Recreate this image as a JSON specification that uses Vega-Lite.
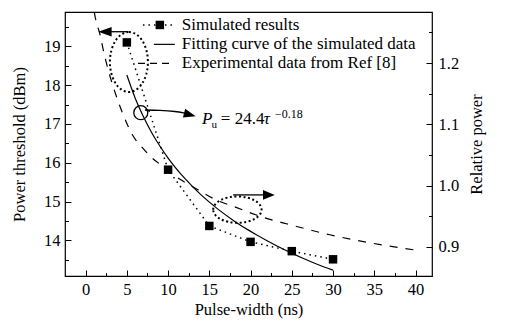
{
  "$schema": "https://vega.github.io/schema/vega-lite/v6.json",
  "width": 367,
  "height": 264,
  "autosize": "none",
  "padding": {"left": 65, "top": 12, "right": 83, "bottom": 56},
  "background": "white",
  "config": {
    "view": {"stroke": "black", "strokeWidth": 1.2},
    "axis": {
      "labelFont": "Liberation Serif", "titleFont": "Liberation Serif",
      "labelFontSize": 16.5, "titleFontSize": 16.5, "titleFontWeight": "normal",
      "labelColor": "black", "titleColor": "black", "tickColor": "black", "tickWidth": 1,
      "domain": false, "grid": false
    },
    "text": {"font": "Liberation Serif", "color": "black"}
  },
  "datasets": {
    "sim": [{"x": 5, "y": 19.1}, {"x": 10, "y": 15.82}, {"x": 15, "y": 14.37}, {"x": 20, "y": 13.96}, {"x": 25, "y": 13.72}, {"x": 30, "y": 13.51}],
    "fit": [{"x": 5, "y": 18.26}, {"x": 6, "y": 17.67}, {"x": 7, "y": 17.19}, {"x": 8, "y": 16.78}, {"x": 9, "y": 16.43}, {"x": 10, "y": 16.12}, {"x": 12, "y": 15.6}, {"x": 14, "y": 15.17}, {"x": 16, "y": 14.81}, {"x": 18, "y": 14.5}, {"x": 20, "y": 14.23}, {"x": 22, "y": 13.99}, {"x": 24, "y": 13.77}, {"x": 26, "y": 13.57}, {"x": 28, "y": 13.39}, {"x": 30, "y": 13.23}],
    "exp": [{"x": 1.05, "r": 1.283}, {"x": 1.13, "r": 1.277}, {"x": 1.73, "r": 1.247}, {"x": 2.28, "r": 1.213}, {"x": 2.86, "r": 1.183}, {"x": 3.55, "r": 1.153}, {"x": 4.46, "r": 1.119}, {"x": 5.67, "r": 1.083}, {"x": 6.88, "r": 1.062}, {"x": 8, "r": 1.046}, {"x": 9.31, "r": 1.032}, {"x": 11.49, "r": 1.01}, {"x": 13.67, "r": 0.993}, {"x": 15.79, "r": 0.977}, {"x": 17.98, "r": 0.966}, {"x": 21.85, "r": 0.947}, {"x": 24.04, "r": 0.939}, {"x": 29.6, "r": 0.92}, {"x": 34.8, "r": 0.906}, {"x": 40.5, "r": 0.894}],
    "legDot": [{"x": 6.95, "y": 19.55}, {"x": 10.82, "y": 19.55}],
    "legSq": [{"x": 9.0, "y": 19.55}],
    "legSolid": [{"x": 8.28, "y": 19.05}, {"x": 10.82, "y": 19.05}],
    "legDash": [{"x": 6.35, "y": 18.56}, {"x": 10.6, "y": 18.56}],
    "legText": [{"x": 11.67, "y": 19.55, "label": "Simulated results"}, {"x": 11.67, "y": 19.05, "label": "Fitting curve of the simulated data"}, {"x": 11.67, "y": 18.56, "label": "Experimental data from Ref [8]"}],
    "ell1": [{"x": 5.25, "y": 18.595}],
    "ell2": [{"x": 18.4, "y": 14.79}],
    "circ": [{"x": 6.69, "y": 17.29}],
    "arr1": [{"x": 2.96, "y": 19.376}, {"x": 5.13, "y": 19.376}],
    "arr1h": [{"x": 2.34, "y": 19.376}],
    "arr2": [{"x": 17.89, "y": 15.17}, {"x": 21.73, "y": 15.17}],
    "arr2h": [{"x": 22.22, "y": 15.17}],
    "arr3": [{"x": 7.19, "y": 17.358}, {"x": 9.01, "y": 17.35}, {"x": 10.82, "y": 17.32}, {"x": 12.04, "y": 17.28}],
    "arr3h": [{"x": 12.64, "y": 17.24}],
    "eqP": [{"x": 14.1, "y": 16.985, "t": "P"}],
    "eqU": [{"x": 15.25, "y": 16.894, "t": "u"}],
    "eqMid": [{"x": 16.4, "y": 16.985, "t": "= 24.4"}],
    "eqTau": [{"x": 21.6, "y": 16.985, "t": "τ"}],
    "eqExp": [{"x": 22.95, "y": 17.152, "t": "−0.18"}]
  },
  "layer": [
    {
      "data": {"name": "sim"},
      "mark": {"type": "line", "color": "black", "strokeWidth": 1.5, "strokeDash": [1.5, 4]},
      "encoding": {
        "x": {"field": "x", "type": "quantitative", "scale": {"domain": [-2.5, 42], "nice": false, "zero": false},
          "axis": {"orient": "bottom", "values": [0, 5, 10, 15, 20, 25, 30, 35, 40], "format": ".0f",
            "tickSize": -6, "labelPadding": 11, "titlePadding": 4, "title": "Pulse-width (ns)", "labelFlush": false}},
        "y": {"field": "y", "type": "quantitative", "scale": {"domain": [13.08, 19.884], "nice": false, "zero": false},
          "axis": {"orient": "left", "values": [14, 15, 16, 17, 18, 19], "format": ".0f",
            "tickSize": -6, "labelPadding": 11, "titlePadding": 16, "title": "Power threshold (dBm)", "labelFlush": false}}
      }
    },
    {
      "data": {"name": "sim"},
      "mark": {"type": "point", "shape": "square", "filled": true, "color": "black", "size": 72, "opacity": 1},
      "encoding": {
        "x": {"field": "x", "type": "quantitative", "scale": {"domain": [-2.5, 42], "nice": false, "zero": false},
          "axis": {"orient": "bottom", "values": [2.5, 7.5, 12.5, 17.5, 22.5, 27.5, 32.5, 37.5], "tickSize": -3.5, "labels": false, "title": null}},
        "y": {"field": "y", "type": "quantitative", "scale": {"domain": [13.08, 19.884], "nice": false, "zero": false},
          "axis": {"orient": "left", "values": [13.5, 14.5, 15.5, 16.5, 17.5, 18.5, 19.5], "tickSize": -3.5, "labels": false, "title": null}}
      }
    },
    {
      "data": {"name": "fit"},
      "mark": {"type": "line", "color": "black", "strokeWidth": 1.2, "interpolate": "monotone"},
      "encoding": {
        "x": {"field": "x", "type": "quantitative", "scale": {"domain": [-2.5, 42], "nice": false, "zero": false}, "axis": null},
        "y": {"field": "y", "type": "quantitative", "scale": {"domain": [13.08, 19.884], "nice": false, "zero": false}, "axis": null}
      }
    },
    {
      "data": {"name": "exp"},
      "mark": {"type": "line", "color": "black", "strokeWidth": 1.2, "strokeDash": [8, 8], "interpolate": "monotone", "clip": true},
      "encoding": {
        "x": {"field": "x", "type": "quantitative", "scale": {"domain": [-2.5, 42], "nice": false, "zero": false}, "axis": null},
        "y": {"field": "r", "type": "quantitative", "scale": {"domain": [0.8527, 1.2832], "nice": false, "zero": false},
          "axis": {"orient": "right", "values": [0.9, 1.0, 1.1, 1.2], "format": ".1f",
            "tickSize": -6, "labelPadding": 12, "titlePadding": 10, "titleAngle": -90, "titleBaseline": "top", "title": "Relative power", "labelFlush": false}}
      }
    },
    {
      "data": {"name": "exp"},
      "mark": {"type": "point", "opacity": 0, "size": 1},
      "encoding": {
        "x": {"field": "x", "type": "quantitative", "scale": {"domain": [-2.5, 42], "nice": false, "zero": false}, "axis": null},
        "y": {"field": "r", "type": "quantitative", "scale": {"domain": [0.8527, 1.2832], "nice": false, "zero": false},
          "axis": {"orient": "right", "values": [0.95, 1.05, 1.15, 1.25], "tickSize": -3.5, "labels": false, "title": null}}
      }
    },
    {
      "data": {"name": "legDot"},
      "mark": {"type": "line", "color": "black", "strokeWidth": 1.5, "strokeDash": [1.5, 4]},
      "encoding": {
        "x": {"field": "x", "type": "quantitative", "scale": {"domain": [-2.5, 42], "nice": false, "zero": false}, "axis": null},
        "y": {"field": "y", "type": "quantitative", "scale": {"domain": [13.08, 19.884], "nice": false, "zero": false}, "axis": null}
      }
    },
    {
      "data": {"name": "legSq"},
      "mark": {"type": "point", "shape": "square", "filled": true, "color": "black", "size": 72, "opacity": 1},
      "encoding": {
        "x": {"field": "x", "type": "quantitative", "scale": {"domain": [-2.5, 42], "nice": false, "zero": false}, "axis": null},
        "y": {"field": "y", "type": "quantitative", "scale": {"domain": [13.08, 19.884], "nice": false, "zero": false}, "axis": null}
      }
    },
    {
      "data": {"name": "legSolid"},
      "mark": {"type": "line", "color": "black", "strokeWidth": 1.2},
      "encoding": {
        "x": {"field": "x", "type": "quantitative", "scale": {"domain": [-2.5, 42], "nice": false, "zero": false}, "axis": null},
        "y": {"field": "y", "type": "quantitative", "scale": {"domain": [13.08, 19.884], "nice": false, "zero": false}, "axis": null}
      }
    },
    {
      "data": {"name": "legDash"},
      "mark": {"type": "line", "color": "black", "strokeWidth": 1.2, "strokeDash": [7, 5]},
      "encoding": {
        "x": {"field": "x", "type": "quantitative", "scale": {"domain": [-2.5, 42], "nice": false, "zero": false}, "axis": null},
        "y": {"field": "y", "type": "quantitative", "scale": {"domain": [13.08, 19.884], "nice": false, "zero": false}, "axis": null}
      }
    },
    {
      "data": {"name": "legText"},
      "mark": {"type": "text", "align": "left", "baseline": "middle", "fontSize": 17, "font": "Liberation Serif", "color": "black"},
      "encoding": {
        "x": {"field": "x", "type": "quantitative", "scale": {"domain": [-2.5, 42], "nice": false, "zero": false}, "axis": null},
        "y": {"field": "y", "type": "quantitative", "scale": {"domain": [13.08, 19.884], "nice": false, "zero": false}, "axis": null},
        "text": {"field": "label"}
      }
    },
    {
      "data": {"name": "ell1"},
      "mark": {"type": "point", "shape": "M 0 -1 C 0.35 -1 0.633 -0.552 0.633 0 C 0.633 0.552 0.35 1 0 1 C -0.35 1 -0.633 0.552 -0.633 0 C -0.633 -0.552 -0.35 -1 0 -1 Z", "size": 3600, "filled": false, "color": "black", "strokeWidth": 2, "strokeDash": [2, 2.5], "opacity": 1},
      "encoding": {
        "x": {"field": "x", "type": "quantitative", "scale": {"domain": [-2.5, 42], "nice": false, "zero": false}, "axis": null},
        "y": {"field": "y", "type": "quantitative", "scale": {"domain": [13.08, 19.884], "nice": false, "zero": false}, "axis": null}
      }
    },
    {
      "data": {"name": "ell2"},
      "mark": {"type": "point", "shape": "M -1 0 C -1 -0.3 -0.552 -0.545 0 -0.545 C 0.552 -0.545 1 -0.3 1 0 C 1 0.3 0.552 0.545 0 0.545 C -0.552 0.545 -1 0.3 -1 0 Z", "size": 2342, "filled": false, "color": "black", "strokeWidth": 2, "strokeDash": [2, 2.5], "opacity": 1},
      "encoding": {
        "x": {"field": "x", "type": "quantitative", "scale": {"domain": [-2.5, 42], "nice": false, "zero": false}, "axis": null},
        "y": {"field": "y", "type": "quantitative", "scale": {"domain": [13.08, 19.884], "nice": false, "zero": false}, "axis": null}
      }
    },
    {
      "data": {"name": "circ"},
      "mark": {"type": "point", "shape": "circle", "size": 196, "filled": false, "color": "black", "strokeWidth": 1.3, "opacity": 1},
      "encoding": {
        "x": {"field": "x", "type": "quantitative", "scale": {"domain": [-2.5, 42], "nice": false, "zero": false}, "axis": null},
        "y": {"field": "y", "type": "quantitative", "scale": {"domain": [13.08, 19.884], "nice": false, "zero": false}, "axis": null}
      }
    },
    {
      "data": {"name": "arr1"},
      "mark": {"type": "line", "color": "black", "strokeWidth": 1.3},
      "encoding": {
        "x": {"field": "x", "type": "quantitative", "scale": {"domain": [-2.5, 42], "nice": false, "zero": false}, "axis": null},
        "y": {"field": "y", "type": "quantitative", "scale": {"domain": [13.08, 19.884], "nice": false, "zero": false}, "axis": null}
      }
    },
    {
      "data": {"name": "arr1h"},
      "mark": {"type": "point", "shape": "M -1 0 L 1 -0.7 L 1 0.7 Z", "size": 180, "filled": true, "color": "black", "opacity": 1},
      "encoding": {
        "x": {"field": "x", "type": "quantitative", "scale": {"domain": [-2.5, 42], "nice": false, "zero": false}, "axis": null},
        "y": {"field": "y", "type": "quantitative", "scale": {"domain": [13.08, 19.884], "nice": false, "zero": false}, "axis": null}
      }
    },
    {
      "data": {"name": "arr2"},
      "mark": {"type": "line", "color": "black", "strokeWidth": 1.3},
      "encoding": {
        "x": {"field": "x", "type": "quantitative", "scale": {"domain": [-2.5, 42], "nice": false, "zero": false}, "axis": null},
        "y": {"field": "y", "type": "quantitative", "scale": {"domain": [13.08, 19.884], "nice": false, "zero": false}, "axis": null}
      }
    },
    {
      "data": {"name": "arr2h"},
      "mark": {"type": "point", "shape": "M 1 0 L -1 -0.83 L -1 0.83 Z", "size": 137, "filled": true, "color": "black", "opacity": 1},
      "encoding": {
        "x": {"field": "x", "type": "quantitative", "scale": {"domain": [-2.5, 42], "nice": false, "zero": false}, "axis": null},
        "y": {"field": "y", "type": "quantitative", "scale": {"domain": [13.08, 19.884], "nice": false, "zero": false}, "axis": null}
      }
    },
    {
      "data": {"name": "arr3"},
      "mark": {"type": "line", "color": "black", "strokeWidth": 1.3, "interpolate": "monotone"},
      "encoding": {
        "x": {"field": "x", "type": "quantitative", "scale": {"domain": [-2.5, 42], "nice": false, "zero": false}, "axis": null},
        "y": {"field": "y", "type": "quantitative", "scale": {"domain": [13.08, 19.884], "nice": false, "zero": false}, "axis": null}
      }
    },
    {
      "data": {"name": "arr3h"},
      "mark": {"type": "point", "shape": "M 1 0 L -1 -0.75 L -1 0.75 Z", "size": 144, "angle": 15, "filled": true, "color": "black", "opacity": 1},
      "encoding": {
        "x": {"field": "x", "type": "quantitative", "scale": {"domain": [-2.5, 42], "nice": false, "zero": false}, "axis": null},
        "y": {"field": "y", "type": "quantitative", "scale": {"domain": [13.08, 19.884], "nice": false, "zero": false}, "axis": null}
      }
    },
    {
      "data": {"name": "eqP"},
      "mark": {"type": "text", "align": "left", "baseline": "alphabetic", "fontSize": 17, "fontStyle": "italic", "font": "Liberation Serif", "color": "black"},
      "encoding": {
        "x": {"field": "x", "type": "quantitative", "scale": {"domain": [-2.5, 42], "nice": false, "zero": false}, "axis": null},
        "y": {"field": "y", "type": "quantitative", "scale": {"domain": [13.08, 19.884], "nice": false, "zero": false}, "axis": null},
        "text": {"field": "t"}
      }
    },
    {
      "data": {"name": "eqU"},
      "mark": {"type": "text", "align": "left", "baseline": "alphabetic", "fontSize": 11, "font": "Liberation Serif", "color": "black"},
      "encoding": {
        "x": {"field": "x", "type": "quantitative", "scale": {"domain": [-2.5, 42], "nice": false, "zero": false}, "axis": null},
        "y": {"field": "y", "type": "quantitative", "scale": {"domain": [13.08, 19.884], "nice": false, "zero": false}, "axis": null},
        "text": {"field": "t"}
      }
    },
    {
      "data": {"name": "eqMid"},
      "mark": {"type": "text", "align": "left", "baseline": "alphabetic", "fontSize": 17, "font": "Liberation Serif", "color": "black"},
      "encoding": {
        "x": {"field": "x", "type": "quantitative", "scale": {"domain": [-2.5, 42], "nice": false, "zero": false}, "axis": null},
        "y": {"field": "y", "type": "quantitative", "scale": {"domain": [13.08, 19.884], "nice": false, "zero": false}, "axis": null},
        "text": {"field": "t"}
      }
    },
    {
      "data": {"name": "eqTau"},
      "mark": {"type": "text", "align": "left", "baseline": "alphabetic", "fontSize": 17, "fontStyle": "italic", "font": "Liberation Serif", "color": "black"},
      "encoding": {
        "x": {"field": "x", "type": "quantitative", "scale": {"domain": [-2.5, 42], "nice": false, "zero": false}, "axis": null},
        "y": {"field": "y", "type": "quantitative", "scale": {"domain": [13.08, 19.884], "nice": false, "zero": false}, "axis": null},
        "text": {"field": "t"}
      }
    },
    {
      "data": {"name": "eqExp"},
      "mark": {"type": "text", "align": "left", "baseline": "alphabetic", "fontSize": 12, "font": "Liberation Serif", "color": "black"},
      "encoding": {
        "x": {"field": "x", "type": "quantitative", "scale": {"domain": [-2.5, 42], "nice": false, "zero": false}, "axis": null},
        "y": {"field": "y", "type": "quantitative", "scale": {"domain": [13.08, 19.884], "nice": false, "zero": false}, "axis": null},
        "text": {"field": "t"}
      }
    }
  ],
  "resolve": {"scale": {"y": "independent"}, "axis": {"x": "independent", "y": "independent"}}
}
